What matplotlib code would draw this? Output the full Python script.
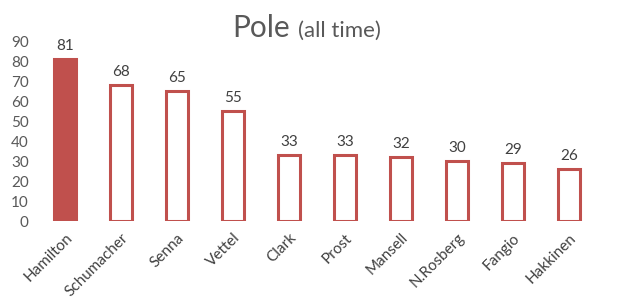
import numpy as np
import matplotlib.pyplot as plt

drivers = ["Hamilton", "Schumacher", "Senna", "Vettel", "Clark", "Prost",
           "Mansell", "N.Rosberg", "Fangio", "Hakkinen"]
poles = [81, 68, 65, 55, 33, 33, 32, 30, 29, 26]

red = "#C0504D"
grey = "#595959"
plt.rcParams['font.family'] = ['Lato', 'DejaVu Sans']

fig = plt.figure(figsize=(6.17, 3.04), dpi=100)
ax = fig.add_axes([0.06, 0.273, 0.9076, 0.592])

x = np.arange(len(drivers))
fill = [red] + ["white"] * (len(drivers) - 1)
ax.bar(x, poles, width=0.40, color=fill, edgecolor=red, linewidth=2.2)

for xi, v in zip(x, poles):
    ax.text(xi, v + 3, str(v), ha="center", va="bottom", fontsize=11, color="#404040")

ax.set_xlim(-0.5, len(drivers) - 0.5)
ax.set_ylim(0, 90)
ax.set_yticks(range(0, 91, 10))
ax.set_xticks(x)
ax.set_xticklabels(drivers, rotation=45, ha="right", rotation_mode="anchor",
                   fontsize=11, color="#404040")
ax.tick_params(axis="y", length=0, labelsize=11, colors=grey, pad=6)
ax.tick_params(axis="x", length=0, colors="#404040", pad=7)
for s in ax.spines.values():
    s.set_visible(False)

fig.text(0.47, 0.878, "Pole", fontsize=21.5, color=grey, ha="right", va="baseline")
fig.text(0.483, 0.878, "(all time)", fontsize=16, color=grey, ha="left", va="baseline")

fig.savefig("out.png", dpi=100)
